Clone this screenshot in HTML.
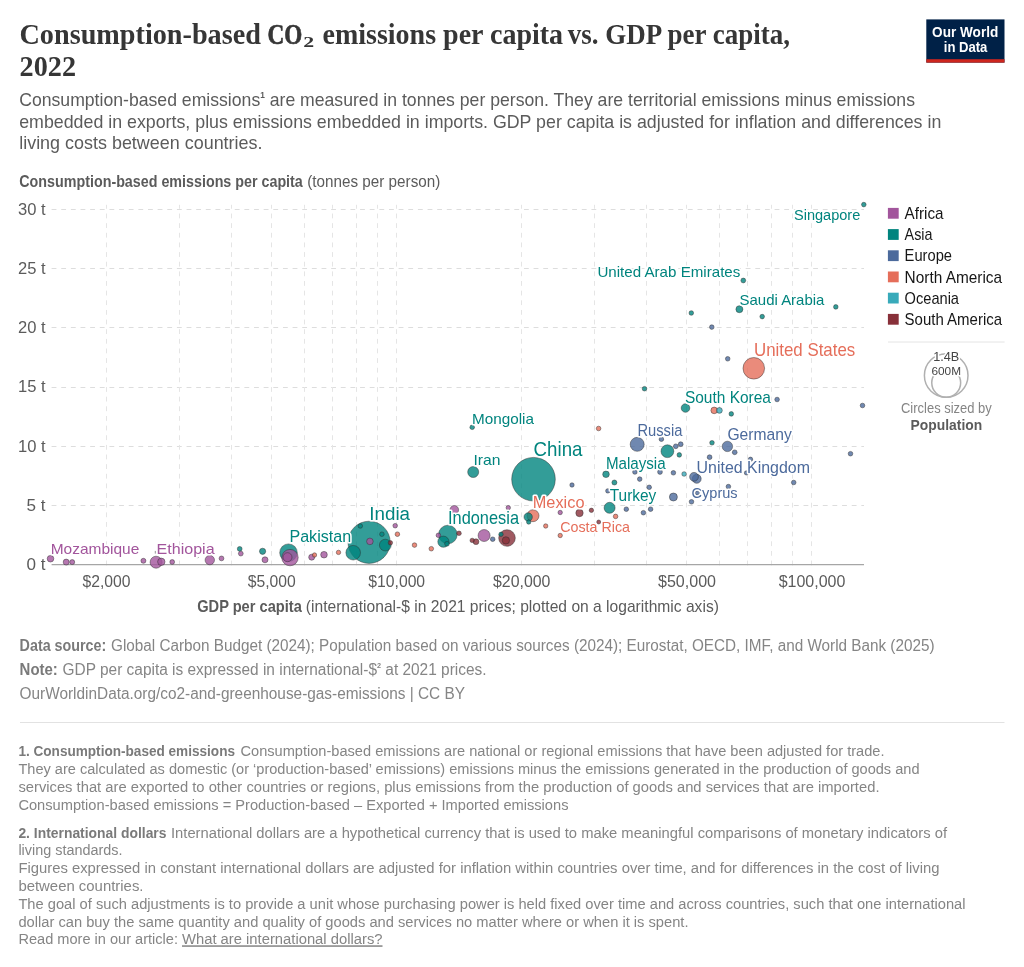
<!DOCTYPE html>
<html lang="en"><head><meta charset="utf-8"><title>Consumption-based CO2 emissions per capita vs. GDP per capita, 2022</title>
<style>html,body{margin:0;padding:0;background:#fff;}body{width:1024px;height:967px;overflow:hidden;font-family:"Liberation Sans",sans-serif;}</style></head>
<body>
<svg width="1024" height="967" viewBox="0 0 1024 967" style="display:block;will-change:transform">
<rect width="1024" height="967" fill="#fff"/>
<text x="19.5" y="44.3" font-size="29" fill="#363636" font-family='"Liberation Serif", serif' font-weight="bold" textLength="241.4" lengthAdjust="spacingAndGlyphs">Consumption-based</text>
<text x="267.5" y="44.3" font-size="29" fill="#363636" font-family='"Liberation Serif", serif' font-weight="bold" textLength="34.8" lengthAdjust="spacingAndGlyphs" stroke="#363636" stroke-width="0.7">CO</text>
<text x="322.5" y="44.3" font-size="29" fill="#363636" font-family='"Liberation Serif", serif' font-weight="bold" textLength="240.6" lengthAdjust="spacingAndGlyphs">emissions per capita</text>
<text x="567.8" y="44.3" font-size="29" fill="#363636" font-family='"Liberation Serif", serif' font-weight="bold" textLength="222.2" lengthAdjust="spacingAndGlyphs">vs. GDP per capita,</text>
<text x="303.3" y="47.4" font-size="13.6" fill="#363636" font-family='"Liberation Serif", serif' font-weight="bold" textLength="10.9" lengthAdjust="spacingAndGlyphs">2</text>
<text x="19.6" y="75.6" font-size="29" fill="#363636" font-family='"Liberation Serif", serif' font-weight="bold" textLength="56.4" lengthAdjust="spacingAndGlyphs">2022</text>
<rect x="926.3" y="19.4" width="78.2" height="43.2" fill="#002147"/>
<rect x="926.3" y="59.2" width="78.2" height="3.4" fill="#ce261e"/>
<text x="932.1" y="36.7" font-size="14.3" fill="#fff" font-family='"Liberation Sans", sans-serif' font-weight="bold" textLength="66.2" lengthAdjust="spacingAndGlyphs">Our World</text>
<text x="943.8" y="51.6" font-size="14.3" fill="#fff" font-family='"Liberation Sans", sans-serif' font-weight="bold" textLength="43.6" lengthAdjust="spacingAndGlyphs">in Data</text>
<text x="19.2" y="105.6" font-size="17.75" fill="#5b5b5b" font-family='"Liberation Sans", sans-serif' textLength="895.8" lengthAdjust="spacingAndGlyphs">Consumption-based emissions<tspan dy="-8.08" font-size="8.34" font-weight="bold">1</tspan><tspan dy="8.08"> are measured in tonnes per person. They are territorial emissions minus emissions</tspan></text>
<text x="19.2" y="127.6" font-size="17.75" fill="#5b5b5b" font-family='"Liberation Sans", sans-serif' textLength="922.1" lengthAdjust="spacingAndGlyphs">embedded in exports, plus emissions embedded in imports. GDP per capita is adjusted for inflation and differences in</text>
<text x="19.2" y="148.9" font-size="17.75" fill="#5b5b5b" font-family='"Liberation Sans", sans-serif' textLength="243.3" lengthAdjust="spacingAndGlyphs">living costs between countries.</text>
<text x="19.3" y="186.7" font-size="16.4" fill="#5b5b5b" font-family='"Liberation Sans", sans-serif' font-weight="bold" textLength="283.5" lengthAdjust="spacingAndGlyphs">Consumption-based emissions per capita</text>
<text x="307.3" y="186.7" font-size="16.4" fill="#5b5b5b" font-family='"Liberation Sans", sans-serif' textLength="133.0" lengthAdjust="spacingAndGlyphs">(tonnes per person)</text>
<text x="197.2" y="612.2" font-size="16.4" fill="#5b5b5b" font-family='"Liberation Sans", sans-serif' font-weight="bold" textLength="104.6" lengthAdjust="spacingAndGlyphs">GDP per capita</text>
<text x="305.8" y="612.2" font-size="16.4" fill="#5b5b5b" font-family='"Liberation Sans", sans-serif' textLength="413.1" lengthAdjust="spacingAndGlyphs">(international-$ in 2021 prices; plotted on a logarithmic axis)</text>
<g stroke="#dddddd" stroke-width="1" stroke-dasharray="4.82 4.82" fill="none"><line x1="51.6" x2="864" y1="505.5" y2="505.5"/><line x1="51.6" x2="864" y1="446.5" y2="446.5"/><line x1="51.6" x2="864" y1="387.5" y2="387.5"/><line x1="51.6" x2="864" y1="327.5" y2="327.5"/><line x1="51.6" x2="864" y1="268.5" y2="268.5"/><line x1="51.6" x2="864" y1="209.5" y2="209.5"/></g>
<g stroke="#e5e5e5" stroke-width="1" stroke-dasharray="4.82 4.82" fill="none"><line x1="106.5" x2="106.5" y1="565.4" y2="204.8"/><line x1="179.5" x2="179.5" y1="565.4" y2="204.8"/><line x1="231.5" x2="231.5" y1="565.4" y2="204.8"/><line x1="271.5" x2="271.5" y1="565.4" y2="204.8"/><line x1="304.5" x2="304.5" y1="565.4" y2="204.8"/><line x1="332.5" x2="332.5" y1="565.4" y2="204.8"/><line x1="356.5" x2="356.5" y1="565.4" y2="204.8"/><line x1="377.5" x2="377.5" y1="565.4" y2="204.8"/><line x1="396.5" x2="396.5" y1="565.4" y2="204.8"/><line x1="521.5" x2="521.5" y1="565.4" y2="204.8"/><line x1="594.5" x2="594.5" y1="565.4" y2="204.8"/><line x1="646.5" x2="646.5" y1="565.4" y2="204.8"/><line x1="686.5" x2="686.5" y1="565.4" y2="204.8"/><line x1="719.5" x2="719.5" y1="565.4" y2="204.8"/><line x1="747.5" x2="747.5" y1="565.4" y2="204.8"/><line x1="771.5" x2="771.5" y1="565.4" y2="204.8"/><line x1="792.5" x2="792.5" y1="565.4" y2="204.8"/><line x1="811.5" x2="811.5" y1="565.4" y2="204.8"/></g>
<line x1="51.6" x2="864" y1="564.6" y2="564.6" stroke="#a6a6a6" stroke-width="1.3"/>
<text x="26.6" y="570.05" font-size="16.0" fill="#5b5b5b" font-family='"Liberation Sans", sans-serif' textLength="19.0" lengthAdjust="spacingAndGlyphs">0 t</text>
<text x="26.6" y="510.84" font-size="16.0" fill="#5b5b5b" font-family='"Liberation Sans", sans-serif' textLength="19.0" lengthAdjust="spacingAndGlyphs">5 t</text>
<text x="18.0" y="451.63" font-size="16.0" fill="#5b5b5b" font-family='"Liberation Sans", sans-serif' textLength="27.6" lengthAdjust="spacingAndGlyphs">10 t</text>
<text x="18.0" y="392.42" font-size="16.0" fill="#5b5b5b" font-family='"Liberation Sans", sans-serif' textLength="27.6" lengthAdjust="spacingAndGlyphs">15 t</text>
<text x="18.0" y="333.21" font-size="16.0" fill="#5b5b5b" font-family='"Liberation Sans", sans-serif' textLength="27.6" lengthAdjust="spacingAndGlyphs">20 t</text>
<text x="18.0" y="274.0" font-size="16.0" fill="#5b5b5b" font-family='"Liberation Sans", sans-serif' textLength="27.6" lengthAdjust="spacingAndGlyphs">25 t</text>
<text x="18.0" y="214.79" font-size="16.0" fill="#5b5b5b" font-family='"Liberation Sans", sans-serif' textLength="27.6" lengthAdjust="spacingAndGlyphs">30 t</text>
<text x="82.45" y="587.1" font-size="16.0" fill="#5b5b5b" font-family='"Liberation Sans", sans-serif' textLength="48.0" lengthAdjust="spacingAndGlyphs">$2,000</text>
<text x="247.71" y="587.1" font-size="16.0" fill="#5b5b5b" font-family='"Liberation Sans", sans-serif' textLength="48.0" lengthAdjust="spacingAndGlyphs">$5,000</text>
<text x="368.32" y="587.1" font-size="16.0" fill="#5b5b5b" font-family='"Liberation Sans", sans-serif' textLength="56.8" lengthAdjust="spacingAndGlyphs">$10,000</text>
<text x="493.03" y="587.1" font-size="16.0" fill="#5b5b5b" font-family='"Liberation Sans", sans-serif' textLength="57.4" lengthAdjust="spacingAndGlyphs">$20,000</text>
<text x="657.99" y="587.1" font-size="16.0" fill="#5b5b5b" font-family='"Liberation Sans", sans-serif' textLength="58.0" lengthAdjust="spacingAndGlyphs">$50,000</text>
<text x="778.65" y="587.1" font-size="16.0" fill="#5b5b5b" font-family='"Liberation Sans", sans-serif' textLength="66.7" lengthAdjust="spacingAndGlyphs">$100,000</text>
<g fill-opacity="0.8" stroke="#2b2b2b" stroke-opacity="0.75" stroke-width="0.6"><circle cx="533.5" cy="479.2" r="21.8" fill="#00847e"/><circle cx="369.1" cy="542.3" r="21.1" fill="#00847e"/><circle cx="753.8" cy="368.3" r="10.8" fill="#e56e5a"/><circle cx="447.9" cy="534.5" r="9.3" fill="#00847e"/><circle cx="288.5" cy="552.7" r="8.8" fill="#00847e"/><circle cx="507" cy="538" r="8.3" fill="#883039"/><circle cx="290" cy="557.6" r="8.2" fill="#a2559c"/><circle cx="353.2" cy="552.7" r="7.3" fill="#00847e"/><circle cx="637.2" cy="444.35" r="7.0" fill="#4c6a9c"/><circle cx="667.4" cy="451.2" r="6.4" fill="#00847e"/><circle cx="156.1" cy="562.2" r="6.0" fill="#a2559c"/><circle cx="484.1" cy="535.5" r="6" fill="#a2559c"/><circle cx="533" cy="515.7" r="6" fill="#e56e5a"/><circle cx="385.3" cy="545.1" r="5.9" fill="#00847e"/><circle cx="443.4" cy="541.7" r="5.6" fill="#00847e"/><circle cx="473.2" cy="472" r="5.5" fill="#00847e"/><circle cx="609.6" cy="507.8" r="5.5" fill="#00847e"/><circle cx="727.4" cy="446.4" r="5.2" fill="#4c6a9c"/><circle cx="209.8" cy="560.1" r="4.7" fill="#a2559c"/><circle cx="287.5" cy="557.2" r="4.5" fill="#a2559c"/><circle cx="696.7" cy="478.8" r="4.5" fill="#4c6a9c"/><circle cx="694" cy="476.8" r="4.4" fill="#4c6a9c"/><circle cx="454.3" cy="509.8" r="4.3" fill="#a2559c"/><circle cx="685.5" cy="408" r="4.3" fill="#00847e"/><circle cx="528.2" cy="517" r="4.2" fill="#00847e"/><circle cx="673.4" cy="497" r="4.0" fill="#4c6a9c"/><circle cx="161.3" cy="561.8" r="3.7" fill="#a2559c"/><circle cx="505.9" cy="540.4" r="3.7" fill="#883039"/><circle cx="579.5" cy="513" r="3.7" fill="#883039"/><circle cx="739.4" cy="309.2" r="3.5" fill="#00847e"/><circle cx="50.5" cy="558.7" r="3.3" fill="#a2559c"/><circle cx="324" cy="554.7" r="3.3" fill="#a2559c"/><circle cx="369.9" cy="541.4" r="3.3" fill="#a2559c"/><circle cx="606" cy="474.3" r="3.3" fill="#00847e"/><circle cx="714.2" cy="410.4" r="3.3" fill="#e56e5a"/><circle cx="262.6" cy="551.3" r="3.1" fill="#00847e"/><circle cx="66.2" cy="562.1" r="3.0" fill="#a2559c"/><circle cx="265" cy="559.8" r="3.0" fill="#a2559c"/><circle cx="311.7" cy="557.2" r="3" fill="#a2559c"/><circle cx="476" cy="541.7" r="2.9" fill="#883039"/><circle cx="719.4" cy="410.4" r="2.9" fill="#38aaba"/><circle cx="72.2" cy="562.1" r="2.5" fill="#a2559c"/><circle cx="143.4" cy="560.8" r="2.5" fill="#a2559c"/><circle cx="614.4" cy="482.5" r="2.5" fill="#00847e"/><circle cx="172.2" cy="562" r="2.4" fill="#a2559c"/><circle cx="221.5" cy="558.4" r="2.4" fill="#a2559c"/><circle cx="239.7" cy="548.9" r="2.4" fill="#00847e"/><circle cx="240.8" cy="553.6" r="2.4" fill="#a2559c"/><circle cx="447" cy="543.8" r="2.4" fill="#00847e"/><circle cx="660" cy="472" r="2.4" fill="#4c6a9c"/><circle cx="675.8" cy="446.3" r="2.4" fill="#4c6a9c"/><circle cx="680.7" cy="444.2" r="2.4" fill="#4c6a9c"/><circle cx="709.6" cy="457.2" r="2.4" fill="#4c6a9c"/><circle cx="734.7" cy="452.3" r="2.4" fill="#4c6a9c"/><circle cx="743.3" cy="280.5" r="2.4" fill="#00847e"/><circle cx="360.3" cy="526" r="2.3" fill="#00847e"/><circle cx="381.9" cy="534.2" r="2.3" fill="#00847e"/><circle cx="395.2" cy="525.7" r="2.3" fill="#a2559c"/><circle cx="397.4" cy="534.2" r="2.3" fill="#e56e5a"/><circle cx="414.5" cy="545.1" r="2.3" fill="#e56e5a"/><circle cx="431.3" cy="548.7" r="2.3" fill="#e56e5a"/><circle cx="438.4" cy="535.3" r="2.3" fill="#a2559c"/><circle cx="459" cy="533.3" r="2.3" fill="#883039"/><circle cx="492.7" cy="539.2" r="2.3" fill="#4c6a9c"/><circle cx="472.2" cy="427.3" r="2.3" fill="#00847e"/><circle cx="598.6" cy="428.5" r="2.3" fill="#e56e5a"/><circle cx="615.6" cy="516.4" r="2.3" fill="#e56e5a"/><circle cx="626.3" cy="509.2" r="2.3" fill="#4c6a9c"/><circle cx="643.4" cy="512.7" r="2.3" fill="#4c6a9c"/><circle cx="650.6" cy="509.2" r="2.3" fill="#4c6a9c"/><circle cx="634.9" cy="472" r="2.3" fill="#4c6a9c"/><circle cx="639.7" cy="479.1" r="2.3" fill="#4c6a9c"/><circle cx="649.2" cy="487.3" r="2.3" fill="#4c6a9c"/><circle cx="673.4" cy="472.8" r="2.3" fill="#4c6a9c"/><circle cx="661.4" cy="439.2" r="2.3" fill="#4c6a9c"/><circle cx="679.3" cy="454.9" r="2.3" fill="#00847e"/><circle cx="684.1" cy="474" r="2.3" fill="#38aaba"/><circle cx="691.5" cy="501.8" r="2.3" fill="#4c6a9c"/><circle cx="728.4" cy="486.6" r="2.3" fill="#4c6a9c"/><circle cx="712" cy="442.8" r="2.3" fill="#00847e"/><circle cx="793.7" cy="482.5" r="2.3" fill="#4c6a9c"/><circle cx="850.5" cy="453.7" r="2.3" fill="#4c6a9c"/><circle cx="862.5" cy="405.5" r="2.3" fill="#4c6a9c"/><circle cx="777.1" cy="399.5" r="2.3" fill="#4c6a9c"/><circle cx="644.5" cy="388.7" r="2.3" fill="#00847e"/><circle cx="731.3" cy="413.9" r="2.3" fill="#00847e"/><circle cx="863.8" cy="204.6" r="2.3" fill="#00847e"/><circle cx="691.3" cy="313" r="2.3" fill="#00847e"/><circle cx="762.2" cy="316.6" r="2.3" fill="#00847e"/><circle cx="835.8" cy="306.9" r="2.3" fill="#00847e"/><circle cx="711.8" cy="327.1" r="2.3" fill="#4c6a9c"/><circle cx="727.7" cy="358.8" r="2.3" fill="#4c6a9c"/><circle cx="314.5" cy="555" r="2.2" fill="#e56e5a"/><circle cx="338.5" cy="552.4" r="2.2" fill="#e56e5a"/><circle cx="390.4" cy="542.8" r="2.2" fill="#883039"/><circle cx="472.2" cy="540.4" r="2.2" fill="#883039"/><circle cx="501" cy="534.3" r="2.2" fill="#00847e"/><circle cx="508.3" cy="507.7" r="2.2" fill="#a2559c"/><circle cx="528.7" cy="522" r="2.2" fill="#00847e"/><circle cx="545.7" cy="526" r="2.2" fill="#e56e5a"/><circle cx="560.2" cy="512.5" r="2.2" fill="#a2559c"/><circle cx="591.4" cy="510.3" r="2.2" fill="#883039"/><circle cx="560.2" cy="535.5" r="2.2" fill="#e56e5a"/><circle cx="572" cy="485" r="2.2" fill="#4c6a9c"/><circle cx="607.8" cy="490.9" r="2.2" fill="#4c6a9c"/><circle cx="697.4" cy="492.9" r="2.2" fill="#4c6a9c"/><circle cx="750.5" cy="459.3" r="2.2" fill="#4c6a9c"/><circle cx="746.4" cy="472.9" r="2.1" fill="#4c6a9c"/><circle cx="598.7" cy="522" r="2" fill="#883039"/></g>
<path d="M155.3 550.9V553.6M198.6 557.2l-1 1" stroke="#666" stroke-width="0.7" fill="none"/>
<text x="50.72" y="553.8" font-size="15.52" fill="#a2559c" font-family='"Liberation Sans", sans-serif' textLength="88.6" lengthAdjust="spacingAndGlyphs" stroke="#fff" stroke-width="3.2" stroke-linejoin="round" paint-order="stroke">Mozambique</text>
<text x="156.62" y="554.2" font-size="15.52" fill="#a2559c" font-family='"Liberation Sans", sans-serif' textLength="58.0" lengthAdjust="spacingAndGlyphs" stroke="#fff" stroke-width="3.2" stroke-linejoin="round" paint-order="stroke">Ethiopia</text>
<text x="289.45" y="541.7" font-size="16.93" fill="#00847e" font-family='"Liberation Sans", sans-serif' textLength="61.73" lengthAdjust="spacingAndGlyphs" stroke="#fff" stroke-width="3.2" stroke-linejoin="round" paint-order="stroke">Pakistan</text>
<text x="369.38" y="519.8" font-size="18.45" fill="#00847e" font-family='"Liberation Sans", sans-serif' textLength="40.66" lengthAdjust="spacingAndGlyphs" stroke="#fff" stroke-width="3.2" stroke-linejoin="round" paint-order="stroke">India</text>
<text x="448.02" y="523.8" font-size="17.58" fill="#00847e" font-family='"Liberation Sans", sans-serif' textLength="70.98" lengthAdjust="spacingAndGlyphs" stroke="#fff" stroke-width="3.2" stroke-linejoin="round" paint-order="stroke">Indonesia</text>
<text x="473.42" y="465.2" font-size="15.52" fill="#00847e" font-family='"Liberation Sans", sans-serif' textLength="27.0" lengthAdjust="spacingAndGlyphs" stroke="#fff" stroke-width="3.2" stroke-linejoin="round" paint-order="stroke">Iran</text>
<text x="472.05" y="423.6" font-size="14.97" fill="#00847e" font-family='"Liberation Sans", sans-serif' textLength="61.95" lengthAdjust="spacingAndGlyphs" stroke="#fff" stroke-width="3.2" stroke-linejoin="round" paint-order="stroke">Mongolia</text>
<text x="533.62" y="455.8" font-size="19.53" fill="#00847e" font-family='"Liberation Sans", sans-serif' textLength="48.86" lengthAdjust="spacingAndGlyphs" stroke="#fff" stroke-width="3.2" stroke-linejoin="round" paint-order="stroke">China</text>
<text x="532.76" y="508.3" font-size="16.71" fill="#e56e5a" font-family='"Liberation Sans", sans-serif' textLength="51.71" lengthAdjust="spacingAndGlyphs" stroke="#fff" stroke-width="3.2" stroke-linejoin="round" paint-order="stroke">Mexico</text>
<text x="560.15" y="531.7" font-size="14.97" fill="#e56e5a" font-family='"Liberation Sans", sans-serif' textLength="69.85" lengthAdjust="spacingAndGlyphs" stroke="#fff" stroke-width="3.2" stroke-linejoin="round" paint-order="stroke">Costa Rica</text>
<text x="605.9" y="469.4" font-size="15.95" fill="#00847e" font-family='"Liberation Sans", sans-serif' textLength="59.74" lengthAdjust="spacingAndGlyphs" stroke="#fff" stroke-width="3.2" stroke-linejoin="round" paint-order="stroke">Malaysia</text>
<text x="609.7" y="500.9" font-size="15.95" fill="#00847e" font-family='"Liberation Sans", sans-serif' textLength="46.64" lengthAdjust="spacingAndGlyphs" stroke="#fff" stroke-width="3.2" stroke-linejoin="round" paint-order="stroke">Turkey</text>
<text x="637.4" y="435.5" font-size="15.95" fill="#4c6a9c" font-family='"Liberation Sans", sans-serif' textLength="44.94" lengthAdjust="spacingAndGlyphs" stroke="#fff" stroke-width="3.2" stroke-linejoin="round" paint-order="stroke">Russia</text>
<text x="684.89" y="402.5" font-size="16.17" fill="#00847e" font-family='"Liberation Sans", sans-serif' textLength="86.06" lengthAdjust="spacingAndGlyphs" stroke="#fff" stroke-width="3.2" stroke-linejoin="round" paint-order="stroke">South Korea</text>
<text x="727.4" y="440.0" font-size="15.95" fill="#4c6a9c" font-family='"Liberation Sans", sans-serif' textLength="64.34" lengthAdjust="spacingAndGlyphs" stroke="#fff" stroke-width="3.2" stroke-linejoin="round" paint-order="stroke">Germany</text>
<text x="696.58" y="472.8" font-size="16.38" fill="#4c6a9c" font-family='"Liberation Sans", sans-serif' textLength="113.38" lengthAdjust="spacingAndGlyphs" stroke="#fff" stroke-width="3.2" stroke-linejoin="round" paint-order="stroke">United Kingdom</text>
<text x="691.53" y="498.0" font-size="15.3" fill="#4c6a9c" font-family='"Liberation Sans", sans-serif' textLength="46.08" lengthAdjust="spacingAndGlyphs" stroke="#fff" stroke-width="3.2" stroke-linejoin="round" paint-order="stroke">Cyprus</text>
<text x="793.94" y="220.4" font-size="15.3" fill="#00847e" font-family='"Liberation Sans", sans-serif' textLength="66.37" lengthAdjust="spacingAndGlyphs" stroke="#fff" stroke-width="3.2" stroke-linejoin="round" paint-order="stroke">Singapore</text>
<text x="597.43" y="277.2" font-size="15.41" fill="#00847e" font-family='"Liberation Sans", sans-serif' textLength="142.89" lengthAdjust="spacingAndGlyphs" stroke="#fff" stroke-width="3.2" stroke-linejoin="round" paint-order="stroke">United Arab Emirates</text>
<text x="739.53" y="304.5" font-size="15.41" fill="#00847e" font-family='"Liberation Sans", sans-serif' textLength="84.89" lengthAdjust="spacingAndGlyphs" stroke="#fff" stroke-width="3.2" stroke-linejoin="round" paint-order="stroke">Saudi Arabia</text>
<text x="754.02" y="356.3" font-size="17.58" fill="#e56e5a" font-family='"Liberation Sans", sans-serif' textLength="101.18" lengthAdjust="spacingAndGlyphs" stroke="#fff" stroke-width="3.2" stroke-linejoin="round" paint-order="stroke">United States</text>
<rect x="887.9" y="207.9" width="10.8" height="10.8" fill="#a2559c"/>
<text x="904.6" y="219.0" font-size="15.9" fill="#161616" font-family='"Liberation Sans", sans-serif' textLength="38.9" lengthAdjust="spacingAndGlyphs">Africa</text>
<rect x="887.9" y="229.1" width="10.8" height="10.8" fill="#00847e"/>
<text x="904.6" y="240.2" font-size="15.9" fill="#161616" font-family='"Liberation Sans", sans-serif' textLength="27.9" lengthAdjust="spacingAndGlyphs">Asia</text>
<rect x="887.9" y="250.3" width="10.8" height="10.8" fill="#4c6a9c"/>
<text x="904.6" y="261.4" font-size="15.9" fill="#161616" font-family='"Liberation Sans", sans-serif' textLength="47.4" lengthAdjust="spacingAndGlyphs">Europe</text>
<rect x="887.9" y="271.5" width="10.8" height="10.8" fill="#e56e5a"/>
<text x="904.6" y="282.6" font-size="15.9" fill="#161616" font-family='"Liberation Sans", sans-serif' textLength="97.5" lengthAdjust="spacingAndGlyphs">North America</text>
<rect x="887.9" y="292.7" width="10.8" height="10.8" fill="#38aaba"/>
<text x="904.6" y="303.8" font-size="15.9" fill="#161616" font-family='"Liberation Sans", sans-serif' textLength="54.4" lengthAdjust="spacingAndGlyphs">Oceania</text>
<rect x="887.9" y="313.9" width="10.8" height="10.8" fill="#883039"/>
<text x="904.6" y="325.0" font-size="15.9" fill="#161616" font-family='"Liberation Sans", sans-serif' textLength="97.5" lengthAdjust="spacingAndGlyphs">South America</text>
<line x1="888" x2="1004.6" y1="342" y2="342" stroke="#e4e4e4" stroke-width="1"/>
<circle cx="946.2" cy="375.5" r="21.8" fill="none" stroke="#b0b0b0" stroke-width="1.5"/>
<circle cx="946.2" cy="382.85" r="14.45" fill="none" stroke="#b0b0b0" stroke-width="1.5"/>
<text x="933.2" y="360.6" font-size="13" fill="#444" font-family='"Liberation Sans", sans-serif' textLength="26.1" lengthAdjust="spacingAndGlyphs" stroke="#fff" stroke-width="3.2" stroke-linejoin="round" paint-order="stroke">1.4B</text>
<text x="931.4" y="374.9" font-size="10.9" fill="#444" font-family='"Liberation Sans", sans-serif' textLength="29.6" lengthAdjust="spacingAndGlyphs" stroke="#fff" stroke-width="3.2" stroke-linejoin="round" paint-order="stroke">600M</text>
<text x="901" y="412.6" font-size="14.3" fill="#858585" font-family='"Liberation Sans", sans-serif' textLength="90.8" lengthAdjust="spacingAndGlyphs">Circles sized by</text>
<text x="910.6" y="429.7" font-size="14.9" fill="#5b5b5b" font-family='"Liberation Sans", sans-serif' font-weight="bold" textLength="71.6" lengthAdjust="spacingAndGlyphs">Population</text>
<text x="19.6" y="650.5" font-size="16.0" fill="#7a7a7a" font-family='"Liberation Sans", sans-serif' font-weight="bold" textLength="86.7" lengthAdjust="spacingAndGlyphs">Data source:</text>
<text x="111" y="650.5" font-size="16.0" fill="#858585" font-family='"Liberation Sans", sans-serif' textLength="823.5" lengthAdjust="spacingAndGlyphs">Global Carbon Budget (2024); Population based on various sources (2024); Eurostat, OECD, IMF, and World Bank (2025)</text>
<text x="19.6" y="675" font-size="16.0" fill="#7a7a7a" font-family='"Liberation Sans", sans-serif' font-weight="bold" textLength="38.2" lengthAdjust="spacingAndGlyphs">Note:</text>
<text x="62.6" y="675" font-size="16.0" fill="#858585" font-family='"Liberation Sans", sans-serif' textLength="423.9" lengthAdjust="spacingAndGlyphs">GDP per capita is expressed in international-$<tspan dy="-7.28" font-size="7.52" font-weight="bold">2</tspan><tspan dy="7.28"> at 2021 prices.</tspan></text>
<text x="19.6" y="699.3" font-size="16.0" fill="#858585" font-family='"Liberation Sans", sans-serif' textLength="445.4" lengthAdjust="spacingAndGlyphs">OurWorldinData.org/co2-and-greenhouse-gas-emissions | CC BY</text>
<line x1="20" x2="1004.5" y1="722.5" y2="722.5" stroke="#e2e2e2" stroke-width="1"/>
<text x="18.4" y="756" font-size="15.2" fill="#7a7a7a" font-family='"Liberation Sans", sans-serif' font-weight="bold" textLength="216.6" lengthAdjust="spacingAndGlyphs">1. Consumption-based emissions</text>
<text x="240.5" y="756" font-size="15.2" fill="#858585" font-family='"Liberation Sans", sans-serif' textLength="644.0" lengthAdjust="spacingAndGlyphs">Consumption-based emissions are national or regional emissions that have been adjusted for trade.</text>
<text x="18.4" y="774" font-size="15.2" fill="#858585" font-family='"Liberation Sans", sans-serif' textLength="901.1" lengthAdjust="spacingAndGlyphs">They are calculated as domestic (or ‘production-based’ emissions) emissions minus the emissions generated in the production of goods and</text>
<text x="18.4" y="792" font-size="15.2" fill="#858585" font-family='"Liberation Sans", sans-serif' textLength="861.1" lengthAdjust="spacingAndGlyphs">services that are exported to other countries or regions, plus emissions from the production of goods and services that are imported.</text>
<text x="18.4" y="810" font-size="15.2" fill="#858585" font-family='"Liberation Sans", sans-serif' textLength="550.1" lengthAdjust="spacingAndGlyphs">Consumption-based emissions = Production-based – Exported + Imported emissions</text>
<text x="18.4" y="837.5" font-size="15.2" fill="#7a7a7a" font-family='"Liberation Sans", sans-serif' font-weight="bold" textLength="148.1" lengthAdjust="spacingAndGlyphs">2. International dollars</text>
<text x="171" y="837.5" font-size="15.2" fill="#858585" font-family='"Liberation Sans", sans-serif' textLength="776" lengthAdjust="spacingAndGlyphs">International dollars are a hypothetical currency that is used to make meaningful comparisons of monetary indicators of</text>
<text x="18.4" y="855.3" font-size="15.2" fill="#858585" font-family='"Liberation Sans", sans-serif' textLength="104.1" lengthAdjust="spacingAndGlyphs">living standards.</text>
<text x="18.4" y="873" font-size="15.2" fill="#858585" font-family='"Liberation Sans", sans-serif' textLength="921.1" lengthAdjust="spacingAndGlyphs">Figures expressed in constant international dollars are adjusted for inflation within countries over time, and for differences in the cost of living</text>
<text x="18.4" y="891" font-size="15.2" fill="#858585" font-family='"Liberation Sans", sans-serif' textLength="125.1" lengthAdjust="spacingAndGlyphs">between countries.</text>
<text x="18.4" y="908.7" font-size="15.2" fill="#858585" font-family='"Liberation Sans", sans-serif' textLength="947.1" lengthAdjust="spacingAndGlyphs">The goal of such adjustments is to provide a unit whose purchasing power is held fixed over time and across countries, such that one international</text>
<text x="18.4" y="926.5" font-size="15.2" fill="#858585" font-family='"Liberation Sans", sans-serif' textLength="670.1" lengthAdjust="spacingAndGlyphs">dollar can buy the same quantity and quality of goods and services no matter where or when it is spent.</text>
<text x="18.4" y="944.3" font-size="15.2" fill="#858585" font-family='"Liberation Sans", sans-serif' textLength="159.6" lengthAdjust="spacingAndGlyphs">Read more in our article:</text>
<text x="182" y="944.3" font-size="15.2" fill="#858585" font-family='"Liberation Sans", sans-serif' textLength="200.5" lengthAdjust="spacingAndGlyphs" text-decoration="underline">What are international dollars?</text>
</svg>
</body></html>
